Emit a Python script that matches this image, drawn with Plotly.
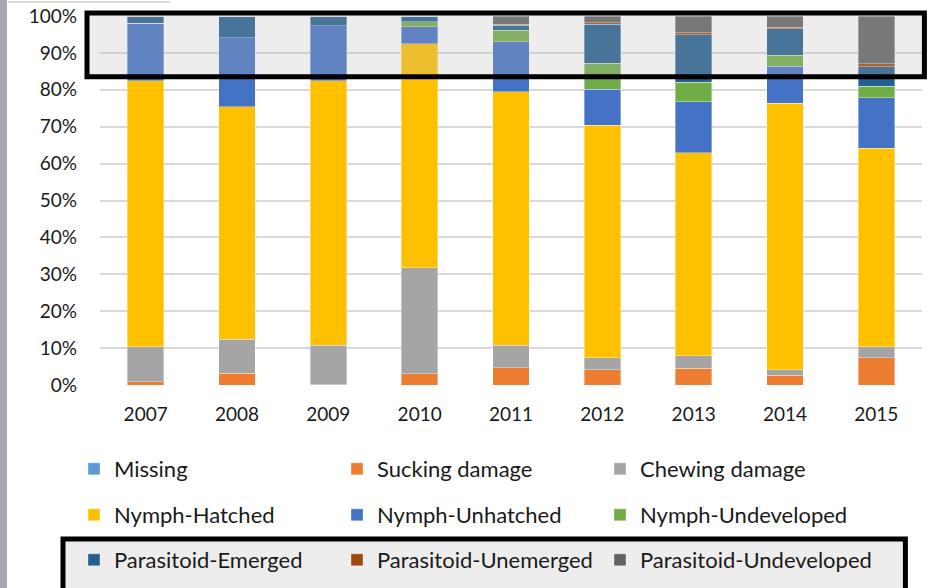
import plotly.graph_objects as go

years = ['2007', '2008', '2009', '2010', '2011', '2012', '2013', '2014', '2015']

# share of each fate per year (%)
missing = [0, 0, 0, 0, 0, 0, 0, 0, 0]
sucking_damage = [0.9, 3.2, 0.1, 3.1, 4.7, 4.2, 4.5, 2.7, 7.4]
chewing_damage = [9.4, 9.2, 10.7, 28.7, 6.1, 3.2, 3.4, 1.5, 2.9]
nymph_hatched = [72.1, 63.0, 71.6, 60.7, 68.7, 63.0, 55.1, 72.2, 53.8]
nymph_unhatched = [15.6, 18.7, 14.9, 4.6, 13.5, 9.7, 13.8, 10.0, 13.8]
nymph_undeveloped = [0, 0, 0, 1.3, 3.2, 7.1, 5.3, 2.9, 3.0]
parasitoid_emerged = [1.8, 5.9, 2.5, 1.6, 1.3, 10.6, 12.8, 7.2, 5.4]
parasitoid_unemerged = [0.2, 0, 0.2, 0, 0.3, 0.4, 0.5, 0.4, 0.7]
parasitoid_undeveloped = [0, 0, 0, 0, 2.2, 1.8, 4.6, 3.1, 13.0]

# (name, values, colour, legend row); the last entry gets its own legend so its
# long label is not clipped by the fixed entry width
series = [
    ('Missing', missing, '#5B9BD5', 'legend'),
    ('Sucking damage', sucking_damage, '#ED7D31', 'legend'),
    ('Chewing damage', chewing_damage, '#A5A5A5', 'legend'),
    ('Nymph-Hatched', nymph_hatched, '#FFC000', 'legend2'),
    ('Nymph-Unhatched', nymph_unhatched, '#4472C4', 'legend2'),
    ('Nymph-Undeveloped', nymph_undeveloped, '#70AD47', 'legend2'),
    ('Parasitoid-Emerged', parasitoid_emerged, '#255E91', 'legend3'),
    ('Parasitoid-Unemerged', parasitoid_unemerged, '#9E480E', 'legend3'),
    ('Parasitoid-Undeveloped', parasitoid_undeveloped, '#636363', 'legend4'),
]

W, H = 928, 588
L, R, T, B = 100, 6.4, 16, 203
pw, ph = W - L - R, H - T - B
COL = 263  # legend column spacing in px


def px_x(p):
    return (p - L) / pw


def px_y(p):
    return (H - B - p) / ph


fig = go.Figure()
for name, vals, color, leg in series:
    fig.add_trace(go.Bar(
        x=years, y=vals, name=name,
        marker=dict(color=color, line=dict(color='rgba(255,255,255,0.6)', width=0.6)),
        legend=leg,
    ))

font = dict(family='Lato, sans-serif', size=19, color='#1a1a1a')
leg_font = dict(family='Lato, sans-serif', size=22, color='#1a1a1a')
leg_common = dict(orientation='h', xanchor='left', yanchor='middle',
                  xref='container', yref='container',
                  entrywidth=COL - 45, entrywidthmode='pixels',
                  font=leg_font, bgcolor='rgba(0,0,0,0)', traceorder='normal')

fig.update_layout(
    width=W, height=H,
    margin=dict(l=L, r=R, t=T, b=B, autoexpand=False),
    barmode='stack', barnorm='percent', bargap=0.6,
    plot_bgcolor='white', paper_bgcolor='white',
    font=font,
    legend=dict(x=74 / W, y=1 - 469 / H, **leg_common),
    legend2=dict(x=74 / W, y=1 - 515 / H, **leg_common),
    legend3=dict(x=74 / W, y=1 - 560 / H, **leg_common),
    legend4=dict(x=(74 + 2 * COL) / W, y=1 - 560 / H,
                 **{**leg_common, 'entrywidth': 0}),
    xaxis=dict(showgrid=False, showline=False, ticks='', ticklabelstandoff=16,
               tickfont=font),
    yaxis=dict(range=[0, 100], dtick=10, ticksuffix='%', showgrid=True,
               gridcolor='#D9D9D9', gridwidth=1.5, zeroline=False, showline=False,
               ticks='', ticklabelstandoff=22, tickfont=font),
    shapes=[
        # grey strip at the left edge
        dict(type='rect', xref='paper', yref='paper', x0=px_x(0), x1=px_x(7),
             y0=px_y(H), y1=px_y(0), fillcolor='#ABA6B6', line_width=0, layer='below'),
        # short light rule at the top
        dict(type='line', xref='paper', yref='paper', x0=px_x(8), x1=px_x(170),
             y0=px_y(2), y1=px_y(2), line=dict(color='#D9D9D9', width=2)),
        # highlight box over the parasitoid part of the bars
        dict(type='rect', xref='paper', yref='paper', x0=px_x(87), x1=px_x(924),
             y0=px_y(76.7), y1=px_y(13), fillcolor='rgba(182,182,182,0.25)',
             line=dict(color='black', width=5), layer='above'),
        # box around the parasitoid legend row
        dict(type='rect', xref='paper', yref='paper', x0=px_x(63), x1=px_x(905),
             y0=px_y(596), y1=px_y(539), fillcolor='rgba(182,182,182,0.25)',
             line=dict(color='black', width=5), layer='above'),
    ],
)

fig.write_html('out.html', config={'displayModeBar': False},
               post_script="document.body.style.margin='0';")
